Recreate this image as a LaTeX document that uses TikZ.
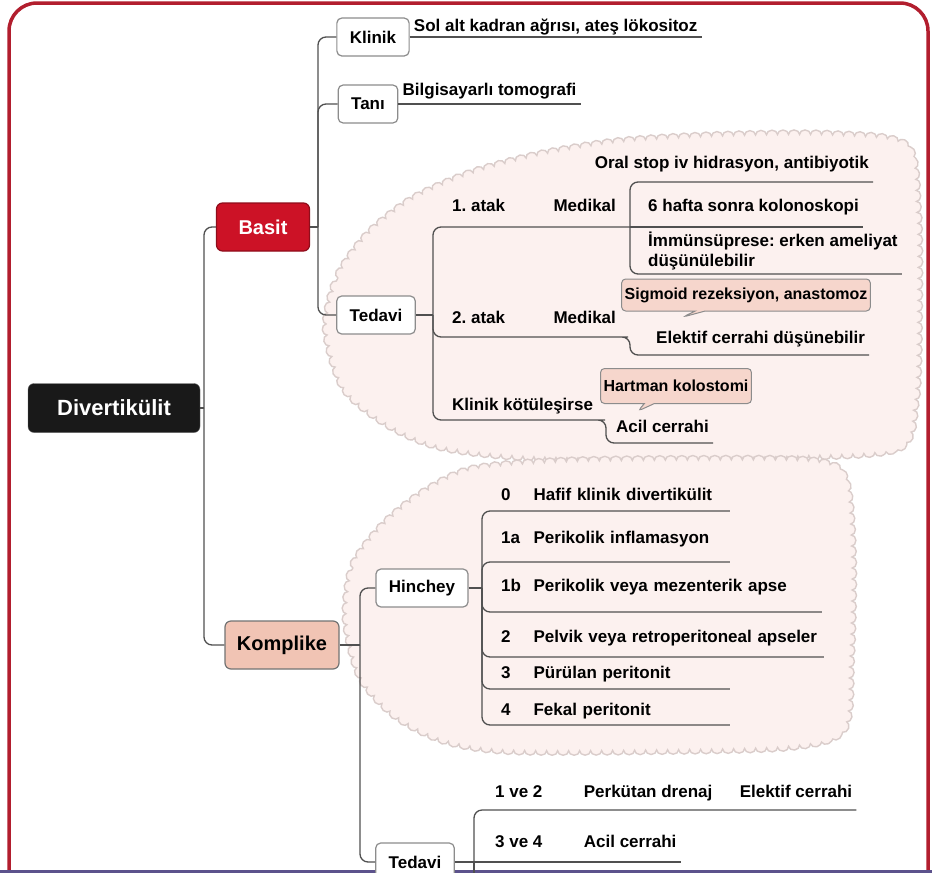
\documentclass[tikz,border=0pt]{standalone}
\usepackage{fontspec}
\setmainfont{Liberation Sans}
\usepackage{tikz}
\usetikzlibrary{positioning, shapes.callouts, decorations.pathmorphing}
\usepackage{xcolor}
\frenchspacing

\definecolor{framered}{RGB}{178,30,46}
\definecolor{basitred}{RGB}{204,18,38}
\definecolor{salmon}{RGB}{241,196,180}
\definecolor{notepink}{RGB}{246,214,204}
\definecolor{cloudpink}{RGB}{252,241,239}
\definecolor{cloudedge}{RGB}{218,205,203}
\definecolor{linegray}{RGB}{80,80,80}
\definecolor{pageline}{RGB}{92,82,140}

\newcommand{\rootsize}{\fontsize{22}{26}\selectfont\bfseries}
\newcommand{\branchsize}{\fontsize{20}{24}\selectfont\bfseries}
\newcommand{\topicsize}{\fontsize{17}{20}\selectfont\bfseries}
\newcommand{\notesize}{\fontsize{16}{19}\selectfont\bfseries}

\tikzstyle{rootbox} = [rectangle, rounded corners=6pt, minimum width=172pt, minimum height=49pt, fill=black!90, draw=black!60, text=white, font=\rootsize]
\tikzstyle{mainbox} = [rectangle, rounded corners=6pt, minimum height=48pt, line width=1.2pt, font=\branchsize]
\tikzstyle{topic} = [rectangle, rounded corners=5pt, minimum height=38pt, inner xsep=13pt, line width=1.2pt, draw=black!45, fill=white, font=\topicsize]
\tikzstyle{leaftext} = [inner xsep=4pt, inner ysep=0pt, font=\topicsize]
\tikzstyle{leaf} = [leaftext, text height=12.5pt, text depth=5pt]
\tikzstyle{note} = [rectangle callout, rounded corners=4pt, callout pointer width=10pt, minimum height=32pt, inner xsep=3pt, line width=1pt, draw=black!45, fill=notepink, font=\notesize]
\tikzstyle{link} = [draw=linegray, line width=1.3pt, rounded corners=8pt]
\tikzstyle{cloud} = [fill=cloudpink, draw=cloudedge, line width=1.4pt, decorate, decoration={bumps, segment length=22pt, amplitude=4.5pt}]

\begin{document}
\begin{tikzpicture}[x=1pt, y=-1pt]
  \useasboundingbox (0,0) rectangle (932,873);
  \clip (0,0) rectangle (932,873);
  \fill[white] (0,0) rectangle (932,873);

  % frame
  \draw[framered, line width=3.5pt, rounded corners=28pt] (9,3) rectangle (928,960);
  \draw[pageline, line width=3pt] (0,871) -- (932,871);

  % clouds
  \path[cloud] plot[smooth cycle] coordinates {(327,330) (338,278) (368,235) (412,200) (470,174) (540,155) (620,142) (720,136) (830,135) (905,146) (917,210) (918,310) (915,400) (898,447) (800,456) (650,459) (520,456) (440,446) (388,424) (345,388)};
  \path[cloud] plot[smooth cycle] coordinates {(347,622) (353,568) (382,527) (422,494) (472,470) (560,462) (700,460) (815,462) (845,482) (852,560) (850,660) (843,728) (790,746) (650,750) (510,750) (445,740) (397,716) (362,678)};

  % main topics
  \node[rootbox] (div) at (114,408) {Divertikülit};
  \node[mainbox, minimum width=93pt, fill=basitred, draw=basitred!70!black, text=white] (basit) at (263,227) {Basit};
  \node[mainbox, minimum width=114pt, fill=salmon, draw=black!55] (kompliks) at (282,645) {Komplike};

  \node[topic] (klinik) at (373,37) {Klinik};
  \node[topic] (tani) at (368,104) {Tanı};
  \node[topic] (tedavi1) at (376,315) {Tedavi};
  \node[topic] (hinchey) at (422,588) {Hinchey};
  \node[topic] (tedavi2) at (415,862) {Tedavi};

  \coordinate (djoint) at (204,408);
  \coordinate (bjoint) at (318,227);
  \coordinate (tjoint) at (433,315);
  \coordinate (m1joint) at (630,227);
  \coordinate (m2joint) at (630,337);
  \coordinate (kotujoint) at (606,420);
  \coordinate (kjoint) at (360,645);
  \coordinate (hjoint) at (482,588);
  \coordinate (t2joint) at (474,862);
  \coordinate (t2tail) at (474,900);

  % Basit
  \node[leaf, anchor=south west] (sol) at (klinik.east) {Sol alt kadran ağrısı, ateş lökositoz};
  \node[leaf, anchor=south west, text depth=8pt] (bilgi) at (tani.east) {Bilgisayarlı tomografi};

  \node[leaf, anchor=south west, text depth=15pt] (atak1) at (448,227) {1. atak};
  \node[leaf, right=40pt of atak1, text depth=15pt] (medikal1) {Medikal};
  \node[leaf, anchor=south east, text depth=13pt] (oral) at (873,182) {Oral stop iv hidrasyon, antibiyotik};
  \node[leaf, anchor=south west, text depth=15pt] (hafta) at (644,227) {6 hafta sonra kolonoskopi};
  \node[leaftext, anchor=south west, align=left, inner ysep=4pt] (immun) at (644,274) {İmmünsüprese: erken ameliyat\\düşünülebilir};

  \node[leaf, anchor=south west, text depth=13pt] (atak2) at (448,337) {2. atak};
  \node[leaf, right=40pt of atak2, text depth=13pt] (medikal2) {Medikal};
  \node[leaf, anchor=south west, text depth=11pt] (elektif1) at (652,355) {Elektif cerrahi düşünebilir};
  \coordinate (sigtip) at (683,317);
  \node[note, callout absolute pointer={(sigtip)}] (sigmoid) at (746,295) {Sigmoid rezeksiyon, anastomoz};

  \node[leaf, anchor=south west, text depth=9pt] (kotu) at (448,420) {Klinik kötüleşirse};
  \node[leaf, anchor=south west, text depth=10pt] (acil1) at (612,443) {Acil cerrahi};
  \coordinate (harttip) at (638,411);
  \node[note, minimum height=35pt, callout absolute pointer={(harttip)}] (hartman) at (676,386) {Hartman kolostomi};

  % Hinchey
  \node[leaf, anchor=south west, text width=24pt, text depth=10pt] (n0) at (497,511) {0};
  \node[leaf, right=0pt of n0, text width=192pt, text depth=10pt] (h0) {Hafif klinik divertikülit};
  \node[leaf, anchor=south west, text width=24pt, text depth=18pt] (n1a) at (497,562) {1a};
  \node[leaf, right=0pt of n1a, text width=192pt, text depth=18pt] (h1a) {Perikolik inflamasyon};
  \node[leaf, anchor=south west, text width=24pt, text depth=20pt] (n1b) at (497,612) {1b};
  \node[leaf, right=0pt of n1b, text width=284pt, text depth=20pt] (h1b) {Perikolik veya mezenterik apse};
  \node[leaf, anchor=south west, text width=24pt, text depth=14pt] (n2) at (497,657) {2};
  \node[leaf, right=0pt of n2, text width=286pt, text depth=14pt] (h2) {Pelvik veya retroperitoneal apseler};
  \node[leaf, anchor=south west, text width=24pt, text depth=10pt] (n3) at (497,689) {3};
  \node[leaf, right=0pt of n3, text width=192pt, text depth=10pt] (h3) {Pürülan peritonit};
  \node[leaf, anchor=south west, text width=24pt, text depth=9pt] (n4) at (497,725) {4};
  \node[leaf, right=0pt of n4, text width=192pt, text depth=9pt] (h4) {Fekal peritonit};

  % Kompliks tedavi
  \node[leaf, anchor=south west, text depth=12pt] (ve12) at (491,810) {1 ve 2};
  \node[leaf, right=33pt of ve12, text depth=12pt] (perk) {Perkütan drenaj};
  \node[leaf, right=19pt of perk, text depth=12pt] (elektif2) {Elektif cerrahi};
  \node[leaf, anchor=south west, text depth=14pt] (ve34) at (491,862) {3 ve 4};
  \node[leaf, right=33pt of ve34, text depth=14pt] (acil2) {Acil cerrahi};

  % connectors
  \draw[link] (div.east) -- (djoint);
  \draw[link] (djoint) |- (basit.west);
  \draw[link] (djoint) |- (kompliks.west);

  \draw[link] (basit.east) -- (bjoint);
  \draw[link] (bjoint) |- (klinik.west);
  \draw[link] (bjoint) |- (tani.west);
  \draw[link] (bjoint) |- (tedavi1.west);
  \draw[link] (klinik.east) -- (sol.south east);
  \draw[link] (tani.east) -- (bilgi.south east);

  \draw[link] (tedavi1.east) -- (tjoint);
  \draw[link] (tjoint) |- (atak1.south east) -- (medikal1.south east) -- (m1joint);
  \draw[link] (m1joint) |- (oral.south east);
  \draw[link] (m1joint) -- (hafta.south east);
  \draw[link] (m1joint) |- (immun.south east);
  \draw[link] (tjoint) |- (atak2.south east) -- (medikal2.south east) -- (m2joint) |- (elektif1.south east);
  \draw[link] (tjoint) |- (kotu.south east) -- (kotujoint) |- (acil1.south east);

  \draw[link] (kompliks.east) -- (kjoint);
  \draw[link] (kjoint) |- (hinchey.west);
  \draw[link] (kjoint) |- (tedavi2.west);

  \draw[link] (hinchey.east) -- (hjoint);
  \draw[link] (hjoint) |- (n0.south east) -- (h0.south east);
  \draw[link] (hjoint) |- (n1a.south east) -- (h1a.south east);
  \draw[link] (hjoint) |- (n1b.south east) -- (h1b.south east);
  \draw[link] (hjoint) |- (n2.south east) -- (h2.south east);
  \draw[link] (hjoint) |- (n3.south east) -- (h3.south east);
  \draw[link] (hjoint) |- (n4.south east) -- (h4.south east);

  \draw[link] (tedavi2.east) -- (t2joint);
  \draw[link] (t2joint) |- (ve12.south east) -- (perk.south east) -- (elektif2.south east);
  \draw[link] (t2joint) -- (ve34.south east) -- (acil2.south east);
  \draw[link] (t2joint) -- (t2tail);
\end{tikzpicture}
\end{document}
